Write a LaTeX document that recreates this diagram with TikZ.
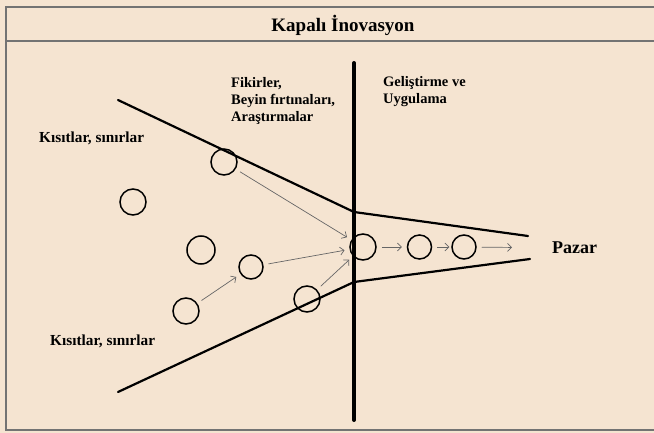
\documentclass[tikz,border=0pt]{standalone}
\usepackage{fontspec}
\setmainfont{Liberation Serif}
\usetikzlibrary{arrows.meta,positioning}
\definecolor{paper}{HTML}{F5E4D1}

\begin{document}
\begin{tikzpicture}[
  x=1pt,y=-1pt,
  font=\bfseries\fontsize{14.5}{17}\selectfont,
  idea/.style={draw,circle,line width=1.5pt,minimum size=26pt,inner sep=0pt},
  flow/.style={-{Straight Barb[length=4pt,width=8pt]},draw=black!60,line width=0.7pt,
               shorten <=5pt,shorten >=5pt},
  bound/.style={line width=2.2pt,line join=round,line cap=round},
  note/.style={align=left,anchor=west,inner sep=0pt},
  frame/.style={draw=black!55,line width=1.6pt}
]
\fill[paper] (0,0) rectangle (654,433);
\useasboundingbox (0,0) rectangle (654,433);
\draw[frame] (654,7) -- (6,7) -- (6,430) -- (654,430);
\draw[frame] (6,41) -- (654,41);
\node (title) at (343,25) {\fontsize{19}{22}\selectfont Kapalı İnovasyon};

% funnel
\coordinate (ut) at (118,100);
\coordinate (uj) at (354,212);
\coordinate (ue) at (528,236);
\coordinate (lt) at (118,392);
\coordinate (lj) at (354,282);
\coordinate (le) at (530,259);
\coordinate (vt) at (354,63);
\coordinate (vb) at (354,420);
\draw[bound] (ut) -- (uj) -- (ue);
\draw[bound] (lt) -- (lj) -- (le);
\draw[line width=4pt,line cap=round] (vt) -- (vb);

% texts
\node[note,font=\bfseries\fontsize{15.3}{17}\selectfont] (kup) at (39,138) {Kısıtlar, sınırlar};
\node[note,font=\bfseries\fontsize{15.3}{17}\selectfont] (kdown) at (50,341) {Kısıtlar, sınırlar};
\node[note] (ideas) at (231,101) {Fikirler,\\Beyin fırtınaları,\\Araştırmalar};
\node[note] (dev) at (383,92) {Geliştirme ve\\Uygulama};
\node[note,font=\bfseries\fontsize{18}{20}\selectfont] (pazar) at (552,248) {Pazar};

% ideas
\node[idea] (c1) at (224,162) {};
\node[idea] (c2) at (133,202) {};
\node[idea,minimum size=28pt] (c3) at (201,250) {};
\node[idea,minimum size=24pt] (c4) at (251,267) {};
\node[idea] (c5) at (186,311) {};
\node[idea] (c6) at (307,299) {};
\node[idea] (c7) at (363,247) {};
\node[idea,minimum size=24pt,right=30pt of c7] (c8) {};
\node[idea,minimum size=24pt,right=19pt of c8] (c9) {};

\draw[flow] (c1) -- (c7);
\draw[flow] (c4) -- (c7);
\draw[flow] (c5) -- (c4);
\draw[flow] (c6) -- (c7);
\draw[flow] (c7) -- (c8);
\draw[flow,shorten >=2pt] (c8) -- (c9);
\draw[flow,shorten >=40pt] (c9) -- (pazar);
\end{tikzpicture}
\end{document}
